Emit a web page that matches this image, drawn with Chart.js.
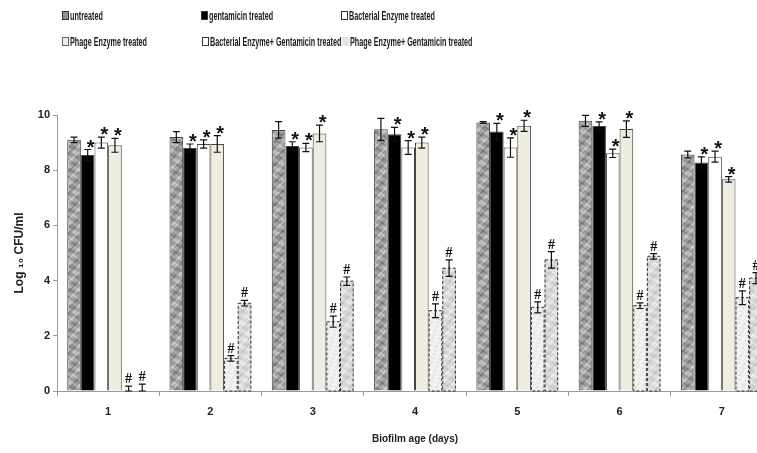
<!DOCTYPE html>
<html>
<head>
<meta charset="utf-8">
<script src="https://cdn.jsdelivr.net/npm/chart.js@4"></script>
<style>
  html, body { margin: 0; padding: 0; background: #fff; width: 757px; height: 453px; overflow: hidden; }
  #wrap { position: absolute; left: 0; top: 0; width: 780px; height: 453px; }
  .leg { position: absolute; font-family: "Liberation Sans", sans-serif; font-weight: bold; font-size: 13px; color: #1a1a1a; white-space: nowrap; line-height: 13px; }
  .leg i { display: inline-block; width: 5px; height: 7px; border: 1px solid #333; margin-right: 1px; vertical-align: 0px; }
  .leg span { display: inline-block; transform: scaleX(0.555); transform-origin: left center; }
</style>
</head>
<body>
<div id="wrap"><canvas id="chart" width="780" height="453"></canvas></div>
<div id="legend"></div>
<script>
const days = ['1', '2', '3', '4', '5', '6', '7'];
const seriesNames = ['untreated', 'gentamicin treated', 'Bacterial Enzyme treated',
    'Phage Enzyme treated', 'Bacterial Enzyme+ Gentamicin treated', 'Phage Enzyme+ Gentamicin treated'];

const untreated = [9.1, 9.2, 9.46, 9.48, 9.73, 9.79, 8.57];
const gentamicin = [8.55, 8.8, 8.88, 9.3, 9.4, 9.6, 8.28];
const bacterial = [9.0, 8.95, 8.82, 8.82, 8.82, 8.61, 8.49];
const phage = [8.9, 8.95, 9.33, 9.0, 9.61, 9.49, 7.67];
const bactGent = [0, 1.18, 2.51, 2.91, 3.03, 3.09, 3.38];
const phageGent = [0, 3.18, 3.98, 4.45, 4.75, 4.88, 4.09];

const untreatedErr = [0.1, 0.2, 0.3, 0.4, 0.03, 0.2, 0.12];
const gentamicinErr = [0.2, 0.15, 0.15, 0.25, 0.3, 0.15, 0.2];
const bacterialErr = [0.2, 0.15, 0.15, 0.25, 0.35, 0.15, 0.2];
const phageErr = [0.25, 0.3, 0.3, 0.2, 0.2, 0.3, 0.1];
const bactGentErr = [0.18, 0.1, 0.2, 0.25, 0.2, 0.1, 0.25];
const phageGentErr = [0.25, 0.1, 0.15, 0.3, 0.3, 0.1, 0.2];

const marks = ['', '*', '*', '*', '#', '#'];
const yTicks = [0, 2, 4, 6, 8, 10];

// mottled fill, made from a few sine waves so it's the same every run
const texture = (lo, hi, scale) => {
    const c = document.createElement('canvas');
    c.width = c.height = 40;
    const g = c.getContext('2d');
    for (let y = 0; y < 40; y++) {
        for (let x = 0; x < 40; x++) {
            const a = x * Math.PI / 20, b = y * Math.PI / 20;
            let v = Math.sin(a * 3 * scale + b * 2) + Math.sin(b * 5 * scale - a * 2)
                + Math.sin((a + b) * 7) * 0.7 + Math.sin((a - b) * 9) * 0.5;
            v = (v + 3.2) / 6.4;
            const k = Math.round(lo + (hi - lo) * Math.max(0, Math.min(1, v)));
            g.fillStyle = `rgb(${k},${k},${k})`;
            g.fillRect(x, y, 1, 1);
        }
    }
    return g.createPattern(c, 'repeat');
};

const ctx = document.getElementById('chart').getContext('2d');
const fills = [
    texture(105, 220, 1),
    '#000000',
    '#ffffff',
    '#eeede0',
    texture(225, 252, 2),
    texture(190, 245, 1)
];
const values = [untreated, gentamicin, bacterial, phage, bactGent, phageGent];
const errors = [untreatedErr, gentamicinErr, bacterialErr, phageErr, bactGentErr, phageGentErr];

const errorBars = {
    id: 'errorBars',
    afterDatasetsDraw(chart) {
        const c = chart.ctx;
        const y = chart.scales.y;
        c.save();
        chart.data.datasets.forEach((ds, i) => {
            const meta = chart.getDatasetMeta(i);
            meta.data.forEach((bar, j) => {
                const v = values[i][j], e = errors[i][j];
                const base = y.getPixelForValue(0);
                // dashed outline for the combined treatments
                if (i >= 4 && v > 0) {
                    c.strokeStyle = '#333';
                    c.lineWidth = 1;
                    c.setLineDash([3, 2]);
                    c.strokeRect(bar.x - bar.width / 2 + 0.5, bar.y, bar.width - 1, base - bar.y);
                    c.setLineDash([]);
                }
                const top = y.getPixelForValue(v + e);
                const bot = y.getPixelForValue(Math.max(0, v - e));
                c.strokeStyle = '#111';
                c.lineWidth = 1.2;
                c.beginPath();
                c.moveTo(bar.x, top); c.lineTo(bar.x, bot);
                c.moveTo(bar.x - 3.5, top); c.lineTo(bar.x + 3.5, top);
                c.moveTo(bar.x - 3.5, bot); c.lineTo(bar.x + 3.5, bot);
                c.stroke();
                c.fillStyle = '#111';
                c.textAlign = 'center';
                c.textBaseline = 'alphabetic';
                if (marks[i] === '*') {
                    c.font = 'bold 20px "Liberation Sans"';
                    c.fillText('*', bar.x + 3, top + 4);
                } else if (marks[i] === '#') {
                    c.font = 'bold 14px "Liberation Serif"';
                    c.fillText('#', bar.x, top - 3);
                }
            });
        });
        c.restore();
    }
};

new Chart(ctx, {
    type: 'bar',
    data: {
        labels: days,
        datasets: seriesNames.map((name, i) => ({
            label: name,
            data: values[i],
            backgroundColor: fills[i],
            borderColor: '#444',
            borderWidth: i >= 4 ? 0 : 1,
            borderSkipped: 'bottom',
            categoryPercentage: 0.8,
            barPercentage: 1.0
        }))
    },
    options: {
        responsive: false,
        animation: false,
        layout: { padding: { top: 115, right: 7, left: 0, bottom: 0 } },
        plugins: { legend: { display: false }, tooltip: { enabled: false } },
        scales: {
            x: {
                offset: true,
                grid: { offset: true, drawOnChartArea: false, tickLength: 5, color: '#999' },
                border: { color: '#999' },
                ticks: { color: '#222', font: { family: 'Liberation Sans', weight: 'bold', size: 11 }, padding: 9 },
                title: {
                    display: true, text: 'Biofilm age (days)', color: '#222',
                    font: { family: 'Liberation Sans', weight: 'bold', size: 10 },
                    padding: { top: 4, bottom: 8 }
                },
                afterFit: axis => { axis.height = 62; }
            },
            y: {
                min: 0, max: 10,
                afterBuildTicks: axis => { axis.ticks = yTicks.map(v => ({ value: v })); },
                grid: { drawOnChartArea: false, tickLength: 4, color: '#999' },
                border: { color: '#999' },
                ticks: { color: '#222', font: { family: 'Liberation Sans', weight: 'bold', size: 11 }, padding: 3 },
                title: {
                    display: true, text: 'Log \u2081\u2080 CFU/ml', color: '#222',
                    font: { family: 'Liberation Sans', weight: 'bold', size: 12 },
                    padding: { top: 12, bottom: 0 }
                },
                afterFit: axis => { axis.width = 57; }
            }
        }
    },
    plugins: [errorBars]
});

// legend sits in two rows of three fixed columns
const legendSwatch = ['background:#8e8e8e', 'background:#000', 'background:#fff',
    'background:#eeede0;border-color:#666', 'background:#fff;border-width:1.5px', 'background:#e4e4e4;border-color:#e4e4e4'];
const legendPos = [[62, 9], [201, 9], [341, 9], [62, 35], [202, 35], [342, 35]];
document.getElementById('legend').innerHTML = seriesNames.map((name, i) =>
    `<div class="leg" style="left:${legendPos[i][0]}px;top:${legendPos[i][1]}px"><i style="${legendSwatch[i]}"></i><span>${name}</span></div>`
).join('');
</script>
</body>
</html>
